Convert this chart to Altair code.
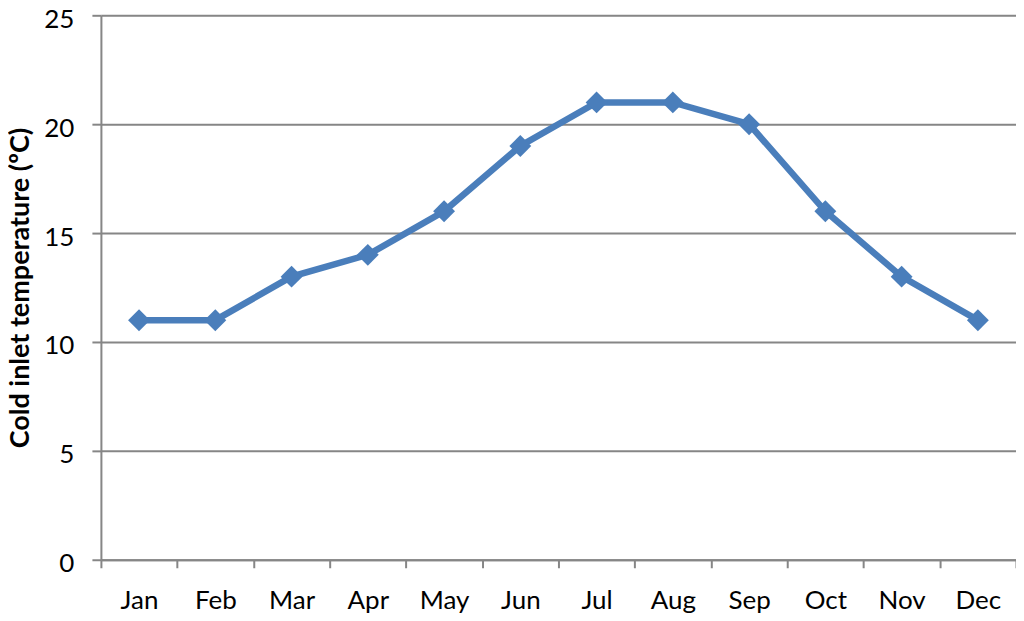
import altair as alt
import pandas as pd

months = ["Jan", "Feb", "Mar", "Apr", "May", "Jun", "Jul", "Aug", "Sep", "Oct", "Nov", "Dec"]
temps = [11, 11, 13, 14, 16, 19, 21, 21, 20, 16, 13, 11]

df = pd.DataFrame({"month": months, "temp": temps})

FONT = "Lato"
GRID = "#868686"
BLUE = "#4a7ebb"

x = alt.X("month:N", sort=months, title=None,
          scale=alt.Scale(type="band", paddingInner=0, paddingOuter=0),
          axis=alt.Axis(labelAngle=0, tickBand="extent", grid=False,
                        domainColor=GRID, domainWidth=2, tickColor=GRID, tickWidth=2,
                        tickSize=8, labelPadding=20, labelFont=FONT, labelFontSize=26,
                        labelColor="black"))
y = alt.Y("temp:Q", title="Cold inlet temperature (ºC)",
          scale=alt.Scale(domain=[0, 25], nice=False),
          axis=alt.Axis(values=[0, 5, 10, 15, 20, 25], grid=True, gridColor=GRID, gridWidth=2,
                        domainColor=GRID, domainWidth=2, tickColor=GRID, tickWidth=2,
                        tickSize=9, labelPadding=18, labelOffset=4, labelFont=FONT,
                        labelFontSize=26, labelColor="black", titleFont=FONT, titleFontSize=27,
                        titleFontWeight="bold", titleColor="black", titlePadding=9))

base = alt.Chart(df)
line = base.mark_line(color=BLUE, strokeWidth=6.5).encode(x=x, y=y)
pts = base.mark_point(shape="diamond", filled=True, color=BLUE, size=480, opacity=1).encode(x=x, y="temp:Q")

chart = (line + pts).properties(
    width=916, height=545,
    autosize=alt.AutoSizeParams(type="none"),
    padding={"left": 93, "top": 7, "right": 0, "bottom": 60},
).configure_view(stroke=None).configure(background="white")

chart.save("out.html", embed_options={"renderer": "svg", "actions": False})
